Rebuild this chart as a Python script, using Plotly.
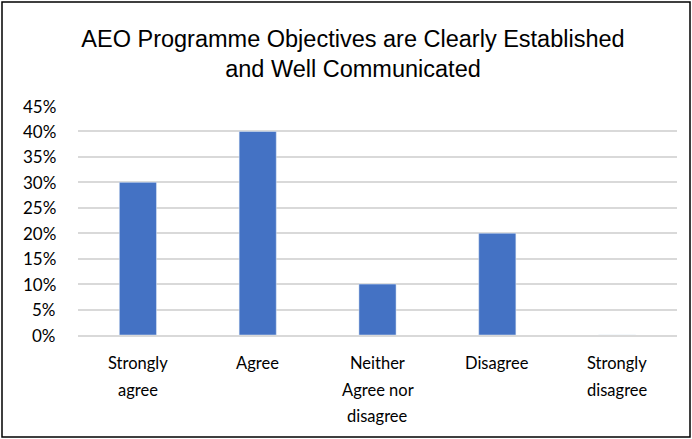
import plotly.graph_objects as go

categories = ["Strongly agree", "Agree", "Neither Agree nor disagree", "Disagree", "Strongly disagree"]
label_lines = [["Strongly", "agree"], ["Agree"], ["Neither", "Agree nor", "disagree"], ["Disagree"], ["Strongly", "disagree"]]
shares = [0.30, 0.40, 0.10, 0.20, 0.0]
tick_vals = [0, 0.05, 0.10, 0.15, 0.20, 0.25, 0.30, 0.35, 0.40, 0.45]
tick_text = ["0%", "5%", "10%", "15%", "20%", "25%", "30%", "35%", "40%", "45%"]

W, H = 692, 439
ML, MR, MT, MB = 78, 15, 106, 104
pw, ph = W - ML - MR, H - MT - MB

fig = go.Figure(go.Bar(x=categories, y=shares, marker_color="#4472C4", width=0.31))

fig.update_layout(
    width=W, height=H,
    margin=dict(l=ML, r=MR, t=MT, b=MB),
    paper_bgcolor="white", plot_bgcolor="white",
    font=dict(family="Lato, Open Sans, sans-serif", color="#000000"),
    title=dict(
        text="AEO Programme Objectives are Clearly Established<br>and Well Communicated",
        x=353 / W, xanchor="center", y=1 - 46.5 / H, yanchor="middle",
        font=dict(family="Liberation Sans, Arial, sans-serif", size=23.5, color="#000000"),
    ),
    showlegend=False,
    bargap=0.69,
)
fig.update_xaxes(showline=True, linecolor="#d9d9d9", linewidth=1.5, ticks="",
                 showticklabels=False, showgrid=False)
fig.update_yaxes(range=[0, 0.45], tickvals=tick_vals,
                 showgrid=True, gridcolor="#d9d9d9", gridwidth=1.5, zeroline=False,
                 showticklabels=False, ticks="")

# percentage labels placed left of the gridlines
for v, t in zip(tick_vals, tick_text):
    fig.add_annotation(x=0, xref="paper", y=v, yref="y", text=t, showarrow=False,
                       xanchor="right", yanchor="middle", xshift=-20,
                       font=dict(size=17, color="#000000"))

# category labels, one line at a time for wider line spacing
for cat, lines in zip(categories, label_lines):
    for i, line in enumerate(lines):
        fig.add_annotation(x=cat, xref="x", y=0, yref="paper", text=line,
                           showarrow=False, yanchor="middle",
                           yshift=-(28 + 26.5 * i), font=dict(size=16.5, color="#000000"))

# outer frame around the whole chart
fig.add_shape(type="rect", xref="paper", yref="paper",
              x0=-(ML - 2) / pw, x1=1 + (MR - 2) / pw,
              y0=-(MB - 2) / ph, y1=1 + (MT - 2) / ph,
              line=dict(color="#000000", width=1.5), fillcolor="rgba(0,0,0,0)")

fig.write_html("out.html")
